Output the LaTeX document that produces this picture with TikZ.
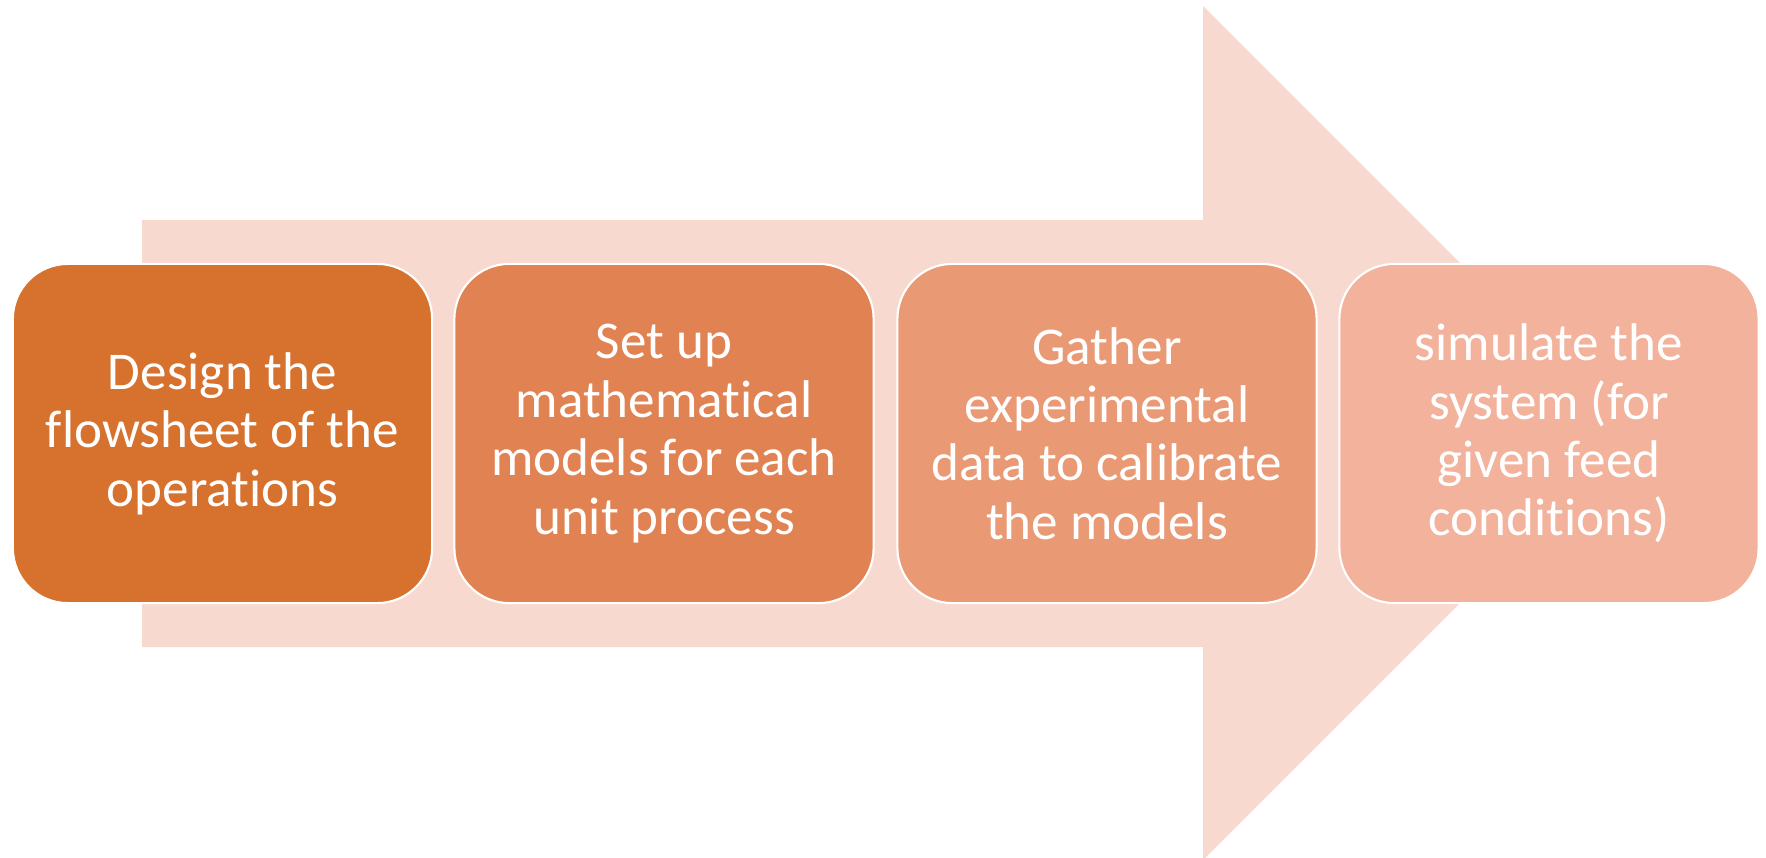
\documentclass[tikz,border=0pt]{standalone}
\usepackage{fontspec}
\setmainfont{Carlito}[Ligatures=NoCommon]
\usepackage{tikz}

\definecolor{arrowbg}{RGB}{247,217,207}
\definecolor{stageone}{RGB}{215,114,46}
\definecolor{stagetwo}{RGB}{224,130,82}
\definecolor{stagethree}{RGB}{234,153,117}
\definecolor{stagefour}{RGB}{242,178,155}

\begin{document}
\begin{tikzpicture}[x = 0.01cm, y = -0.01cm,
    stage/.style = {rectangle, rounded corners = 0.55cm, draw = white, line width = 0.6pt, minimum width = 4.19cm, minimum height = 3.39cm, inner sep = 0pt, align = center, text = white, font = \fontsize{15.1}{16.6}\selectfont}]

    \useasboundingbox (0, 0) rectangle (1766, 857);

    \fill[arrowbg] (142, 220) -- (1203, 220) -- (1203, 6) -- (1630, 433) -- (1203, 860) -- (1203, 647) -- (142, 647) -- cycle;

    \node[stage, fill = stageone] (design) at (222.5, 433.5) {Design the\\flowsheet of the\\operations};
    \node[stage, fill = stagetwo] (models) at (664, 433.5) {Set up\\mathematical\\models for each\\unit process};
    \node[stage, fill = stagethree] (gather) at (1107, 433.5) {Gather\\experimental\\data to calibrate\\the models};
    \node[stage, fill = stagefour] (simulate) at (1549, 433.5) {simulate the\\system (for\\given feed\\conditions)};

\end{tikzpicture}
\end{document}
